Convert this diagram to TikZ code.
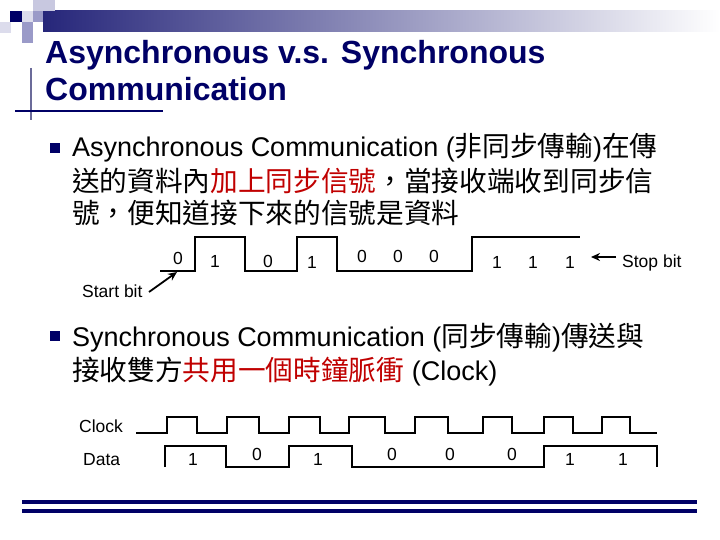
\documentclass[tikz,border=0pt]{standalone}
\usepackage{fontspec}
\setmainfont{Liberation Sans}
\newfontfamily\cjk[Scale=1.025]{Noto Sans CJK TC}
\usetikzlibrary{arrows.meta}
\definecolor{navy}{HTML}{000066}
\definecolor{band}{HTML}{26267A}
\definecolor{hilite}{HTML}{C00000}
\definecolor{pixA}{HTML}{C8C8E0}
\definecolor{pixB}{HTML}{9A9AC8}
\definecolor{pixC}{HTML}{DCDCEC}
\definecolor{rule}{HTML}{6B6B99}

\begin{document}
\begin{tikzpicture}[x=1pt, y=-1pt,
 title/.style={anchor=base west, inner sep=0pt, text=navy,
 font=\fontsize{32}{32}\selectfont\bfseries},
 body/.style={anchor=base west, inner sep=0pt, font=\fontsize{27}{27}\selectfont},
 bit/.style={anchor=base, inner sep=0pt, font=\fontsize{17.5}{17.5}\selectfont},
 lbl/.style={anchor=base west, inner sep=0pt, font=\fontsize{17.5}{17.5}\selectfont},
 bullet/.style={fill=navy, minimum size=10pt, inner sep=0pt},
 wave/.style={line width=1.3pt},
 ar/.style={-{Stealth[length=9pt, width=8pt]}, line width=1.8pt},
]
 \useasboundingbox (0,0) rectangle (720,540);
 % header
 \shade[left color=band, right color=white] (43,11) rectangle (720,32);
 \fill[pixA] (33,0) rectangle (55,11);
 \fill[navy] (10,11) rectangle (22,22);
 \fill[pixC] (22,11) rectangle (33,22);
 \fill[pixB] (33,11) rectangle (43,22);
 \fill[pixB] (22,22) rectangle (33,43);
 \fill[pixC] (0,22) rectangle (11,33);
 \draw[rule, line width=2pt] (31,68) -- (31,120);
 \draw[navy, line width=1.8pt] (15,111) -- (163,111);
 \node[title] (t1) at (45,64) {Asynchronous v.s. Synchronous};
 \node[title] (t2) at (45,101) {Communication};

 % asynchronous
 \node[bullet] (b1) at (55,148) {};
 \node[body] (a1) at (72,157) {Asynchronous Communication ({\cjk 非同步傳輸}){\cjk 在傳}};
 \node[body] (a2) at (72,192) {\cjk 送的資料內\textcolor{hilite}{加上同步信號}，當接收端收到同步信};
 \node[body] (a3) at (72,223) {\cjk 號，便知道接下來的信號是資料};

 \draw[wave] (160,271) -- (195,271) -- (195,237) -- (245,237) -- (245,271)
 -- (297,271) -- (297,237) -- (337,237) -- (337,271) -- (472,271)
 -- (472,237) -- (580,237);
 \foreach \x/\y/\b in {178/264/0, 215/267/1, 268/267/0, 312/268/1,
 362/262/0, 398/262/0, 434/262/0, 497/268/1, 533/268/1, 570/268/1}
 \node[bit] at (\x,\y) {\b};

 \node[lbl] (start) at (82,297) {Start bit};
 \coordinate (starttail) at (149,292);
 \coordinate (startpt) at (177,272);
 \draw[ar] (starttail) -- (startpt);
 \node[lbl] (stop) at (622,267) {Stop bit};
 \coordinate (stoptail) at (616,257);
 \coordinate (stoppt) at (591,257);
 \draw[ar, line width=1.5pt] (stoptail) -- (stoppt);

 % synchronous
 \node[bullet] (b2) at (55,336) {};
 \node[body] (s1) at (72,346) {Synchronous Communication ({\cjk 同步傳輸}){\cjk 傳送與}};
 \node[body] (s2) at (72,380) {{\cjk 接收雙方\textcolor{hilite}{共用一個時鐘脈衝}} (Clock)};

 \node[lbl] (clk) at (79,432) {Clock};
 \node[lbl] (dat) at (83,465) {Data};
 \draw[wave] (136,433)
 \foreach \r/\f in {167/197, 227/259, 289/320, 349/385, 415/448, 483/512,
 544/573, 602/630} { -- (\r,433) -- (\r,417) -- (\f,417) -- (\f,433) }
 -- (657,433);
 \draw[wave] (165,467) -- (165,446) -- (226,446) -- (226,467) -- (289,467)
 -- (289,446) -- (352,446) -- (352,467) -- (544,467) -- (544,446)
 -- (657,446) -- (657,467);
 \foreach \x/\y/\b in {193/465/1, 257/460/0, 318/465/1, 392/460/0,
 450/460/0, 512/460/0, 570/465/1, 623/465/1}
 \node[bit] at (\x,\y) {\b};

 % footer
 \draw[navy, line width=4.5pt] (22,502) -- (697,502);
 \draw[navy, line width=4.5pt] (22,511) -- (697,511);
\end{tikzpicture}
\end{document}
